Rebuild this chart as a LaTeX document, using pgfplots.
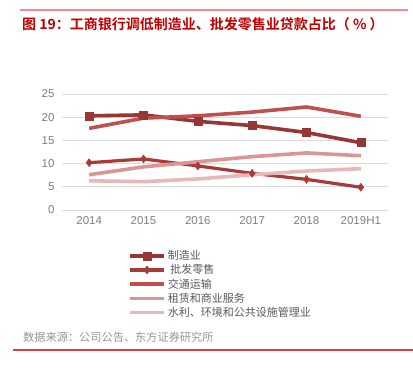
\documentclass[border=0pt]{standalone}
\usepackage{fontspec}
\setmainfont{Liberation Sans}
\newfontfamily\cjk[BoldFont={Noto Sans CJK SC Bold}]{Noto Sans CJK SC}
\usepackage{pgfplots}
\pgfplotsset{compat=1.18}
\definecolor{c1}{RGB}{150,55,53}
\definecolor{c2}{RGB}{168,58,56}
\definecolor{c3}{RGB}{192,80,77}
\definecolor{c4}{RGB}{217,150,148}
\definecolor{c5}{RGB}{230,185,184}
\definecolor{titlered}{RGB}{192,0,0}
\definecolor{topline}{RGB}{240,140,140}
\definecolor{botline}{RGB}{228,60,60}
\definecolor{gridc}{RGB}{220,220,220}
\definecolor{tickc}{RGB}{128,128,128}
\definecolor{legc}{RGB}{89,89,89}
\definecolor{srcc}{RGB}{150,150,150}
\begin{document}
\begin{tikzpicture}
\path[use as bounding box] (0pt,0pt) rectangle (413pt,-375pt);
\draw[topline, line width=1.2pt] (20pt,-10pt) -- (408pt,-10pt);
\node[anchor=west, inner sep=0pt, text=titlered, font=\cjk\bfseries\fontsize{14}{15}\selectfont] at (22pt,-24pt) {图 19：工商银行调低制造业、批发零售业贷款占比（ \% ）};
\begin{axis}[
  at={(62pt,-210pt)}, anchor=south west,
  scale only axis, width=326pt, height=116pt,
  xmin=-0.5, xmax=5.5, ymin=0, ymax=25,
  axis line style={draw=none},
  ymajorgrids, grid style={gridc, line width=0.9pt},
  ytick={0,5,10,15,20,25},
  xtick={0,1,2,3,4,5},
  xticklabels={2014,2015,2016,2017,2018,2019H1},
  major tick length=0pt,
  every tick label/.append style={text=tickc, font=\fontsize{11.5}{12}\selectfont},
  /pgf/number format/assume math mode=true,
  xticklabel style={yshift=-3pt},
  yticklabel style={xshift=-4pt},
  legend cell align=left,
  legend style={at={(0.2025,-0.33)}, anchor=north west, draw=none, fill=none,
    font=\cjk\fontsize{11}{12}\selectfont, text=legc, row sep=-0.6pt,
    inner sep=0pt},
  legend image code/.code={\draw[mark repeat=2,mark phase=2,#1] plot coordinates {(0pt,0pt) (17pt,0pt) (34pt,0pt)};},
  clip=false,
]
\addplot[c1, line width=3.6pt, mark=square*, mark size=4pt, mark options={solid, line width=0.5pt}] coordinates {(0,20.3) (1,20.5) (2,19.1) (3,18.2) (4,16.7) (5,14.5)};
\addlegendentry{制造业}
\addplot[c2, line width=3.2pt, mark=diamond*, mark size=4pt, mark options={solid, line width=0.5pt}] coordinates {(0,10.2) (1,11.0) (2,9.5) (3,7.9) (4,6.6) (5,4.9)};
\addlegendentry{\ 批发零售}
\addplot[c3, line width=3.6pt] coordinates {(0,17.6) (1,19.8) (2,20.3) (3,21.1) (4,22.2) (5,20.2)};
\addlegendentry{交通运输}
\addplot[c4, line width=3.6pt] coordinates {(0,7.6) (1,9.3) (2,10.4) (3,11.5) (4,12.3) (5,11.7)};
\addlegendentry{租赁和商业服务}
\addplot[c5, line width=3.6pt] coordinates {(0,6.3) (1,6.1) (2,6.7) (3,7.6) (4,8.4) (5,8.9)};
\addlegendentry{水利、环境和公共设施管理业}
\end{axis}
\node[anchor=west, inner sep=0pt, text=srcc, font=\cjk\fontsize{11.2}{12}\selectfont] at (23pt,-337pt) {数据来源：公司公告、东方证券研究所};
\draw[botline, line width=1.2pt] (13pt,-350pt) -- (413pt,-350pt);
\end{tikzpicture}
\end{document}
